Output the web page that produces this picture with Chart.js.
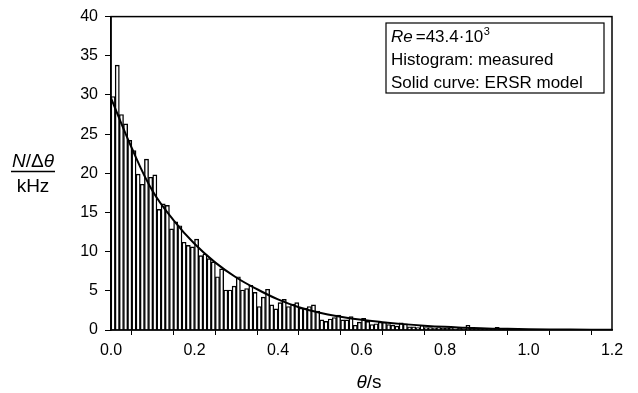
<!DOCTYPE html>
<html>
<head>
<meta charset="utf-8">
<script src="https://cdn.jsdelivr.net/npm/chart.js@4"></script>
<style>
  html, body { margin: 0; padding: 0; background: #fff; }
  #wrap { width: 638px; height: 393px; position: relative; }
</style>
</head>
<body>
<div id="wrap"><canvas id="chart"></canvas></div>
<script>
// histogram bins, 10 ms wide, starting at 0 s
const binWidth = 0.01;
const counts = [
  29.8, 33.8, 27.5, 26.3, 24.2, 22.9, 19.9, 18.6, 21.8, 19.5,
  19.8, 15.4, 16.1, 15.9, 12.9, 13.8, 13.3, 11.2, 10.8, 10.6,
  11.6, 9.5, 9.7, 9.1, 8.7, 6.8, 7.8, 5.1, 5.1, 5.6,
  6.8, 5.1, 5.3, 5.7, 4.8, 3.0, 4.2, 5.2, 3.2, 2.7,
  3.5, 3.9, 3.0, 3.3, 3.5, 2.8, 2.8, 3.0, 3.2, 2.4,
  1.3, 1.1, 1.4, 1.6, 1.9, 1.3, 1.3, 1.7, 0.6, 1.0,
  1.5, 1.1, 0.7, 0.8, 1.0, 1.0, 0.7, 0.6, 0.5, 0.9,
  0.8, 0.4, 0.4, 0.3, 0.6, 0.3, 0.3, 0.25, 0.3, 0.2,
  0.2, 0.25, 0.15, 0.2, 0.15, 0.6, 0.1, 0.1, 0.1, 0.05,
  0.05, 0.1, 0.35, 0.05, 0.05
];

// ERSR model curve
const modelTheta = [0, 0.05, 0.1, 0.15, 0.2, 0.25, 0.3, 0.35, 0.4, 0.45, 0.5, 0.55,
  0.6, 0.65, 0.7, 0.75, 0.8, 0.85, 0.9, 0.95, 1.0, 1.1, 1.2];
const modelValues = [29.6, 23.2, 17.7, 14.0, 11.0, 8.6, 6.7, 5.2, 3.9, 2.9, 2.2, 1.7,
  1.3, 1.0, 0.75, 0.55, 0.4, 0.3, 0.2, 0.15, 0.1, 0.05, 0.02];

const infoLines = ["Histogram: measured", "Solid curve: ERSR model"];

const font = '"Liberation Sans", Arial, sans-serif';

const histData = counts.map((v, i) => ({ x: (i + 0.5) * binWidth, y: v }));
const modelData = modelTheta.map((t, i) => ({ x: t, y: modelValues[i] }));

const decorations = {
  id: 'decorations',
  afterDraw(chart) {
    const ctx = chart.ctx;
    const a = chart.chartArea;
    ctx.save();
    ctx.strokeStyle = '#000';
    ctx.lineWidth = 1.5;
    ctx.strokeRect(a.left, a.top, a.right - a.left, a.bottom - a.top);

    // info box
    const bx = 386, by = 23, bw = 218, bh = 70;
    ctx.fillStyle = '#fff';
    ctx.fillRect(bx, by, bw, bh);
    ctx.lineWidth = 1.2;
    ctx.strokeRect(bx, by, bw, bh);

    ctx.fillStyle = '#000';
    ctx.textBaseline = 'alphabetic';
    ctx.textAlign = 'left';
    let x = bx + 5;
    const y0 = by + 19;
    ctx.font = 'italic 17px ' + font;
    ctx.fillText('Re', x, y0);
    x += ctx.measureText('Re').width + 3;
    ctx.font = '17px ' + font;
    ctx.fillText('=43.4·10', x, y0);
    x += ctx.measureText('=43.4·10').width;
    ctx.font = '11px ' + font;
    ctx.fillText('3', x + 0.5, y0 - 7);
    ctx.font = '17px ' + font;
    infoLines.forEach((t, i) => ctx.fillText(t, bx + 5, y0 + 23 * (i + 1)));

    // y axis title as a fraction
    const cx = 33;
    const parts = [['N', true], ['/', false], ['Δ', false], ['θ', true]];
    let w = 0;
    parts.forEach(p => {
      ctx.font = (p[1] ? 'italic ' : '') + '19px ' + font;
      w += ctx.measureText(p[0]).width;
    });
    let px = cx - w / 2;
    parts.forEach(p => {
      ctx.font = (p[1] ? 'italic ' : '') + '19px ' + font;
      ctx.fillText(p[0], px, 167);
      px += ctx.measureText(p[0]).width;
    });
    ctx.lineWidth = 1.4;
    ctx.beginPath();
    ctx.moveTo(cx - w / 2 - 1, 171.5);
    ctx.lineTo(cx + w / 2 + 1, 171.5);
    ctx.stroke();
    ctx.font = '19px ' + font;
    ctx.textAlign = 'center';
    ctx.fillText('kHz', cx, 192);

    // x axis title
    ctx.textAlign = 'left';
    ctx.font = 'italic 19px ' + font;
    const tw = ctx.measureText('θ').width;
    ctx.font = '19px ' + font;
    const sw = ctx.measureText('/s').width;
    const sx = 369 - (tw + sw) / 2;
    ctx.font = 'italic 19px ' + font;
    ctx.fillText('θ', sx, 388);
    ctx.font = '19px ' + font;
    ctx.fillText('/s', sx + tw, 388);
    ctx.restore();
  }
};

new Chart(document.getElementById('chart'), {
  type: 'bar',
  data: {
    datasets: [
      {
        type: 'line',
        data: modelData,
        borderColor: '#000',
        borderWidth: 2,
        pointRadius: 0,
        tension: 0.4,
        fill: false,
        order: 0
      },
      {
        type: 'bar',
        data: histData,
        backgroundColor: '#fff',
        borderColor: '#000',
        borderWidth: 1.4,
        barPercentage: 1,
        categoryPercentage: 1,
        order: 1
      }
    ]
  },
  options: {
    responsive: true,
    maintainAspectRatio: false,
    animation: false,
    layout: { padding: { left: 0, right: 26, top: 15, bottom: 0 } },
    plugins: { legend: { display: false }, tooltip: { enabled: false } },
    scales: {
      x: {
        type: 'linear',
        min: 0,
        max: 1.2,
        offset: false,
        border: { display: true, color: '#000', width: 1.5 },
        grid: { drawOnChartArea: false, drawTicks: true, tickLength: 5, color: '#000' },
        ticks: {
          stepSize: 0.1,
          autoSkip: false,
          maxRotation: 0,
          padding: 6,
          color: '#000',
          font: { family: font, size: 16 },
          callback: v => (Math.round(v * 10) % 2 === 0 ? v.toFixed(1) : '')
        },
        afterFit: s => { s.height = 63; }
      },
      y: {
        min: 0,
        max: 40,
        border: { display: true, color: '#000', width: 1.5 },
        grid: { drawOnChartArea: false, drawTicks: true, tickLength: 6, color: '#000' },
        ticks: {
          stepSize: 5,
          padding: 7,
          color: '#000',
          font: { family: font, size: 16 }
        },
        afterFit: s => { s.width = 111; }
      }
    }
  },
  plugins: [decorations]
});
</script>
</body>
</html>
